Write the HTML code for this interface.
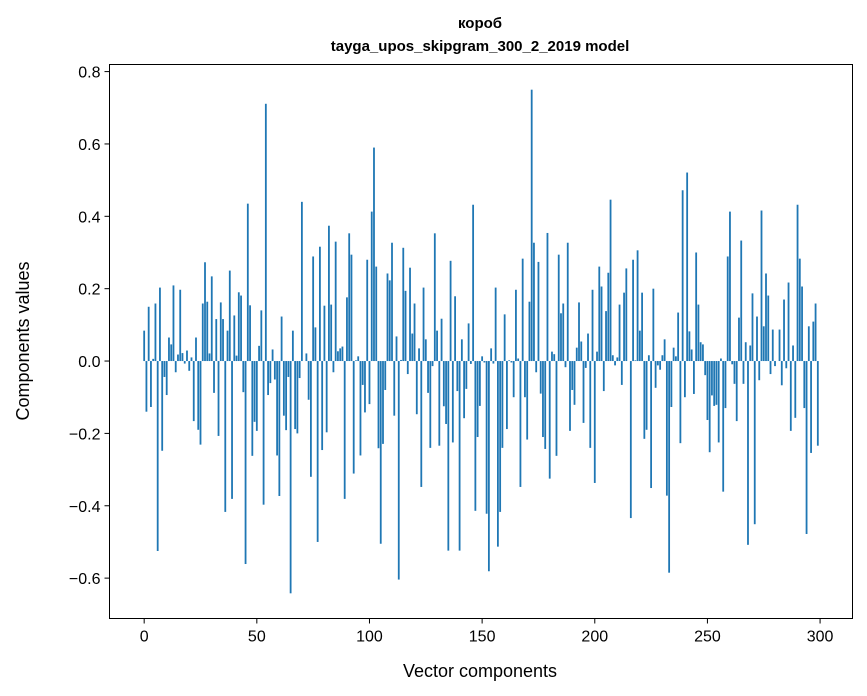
<!DOCTYPE html>
<html><head><meta charset="utf-8"><style>
html,body{margin:0;padding:0;background:#fff;}
svg{display:block;font-family:"Liberation Sans","DejaVu Sans",sans-serif;}
</style></head><body>
<svg id="chart" width="867" height="696">
<rect width="867" height="696" fill="#fff"/>
<text x="480" y="28" text-anchor="middle" font-size="15" font-weight="bold">короб</text>
<text x="480" y="51" text-anchor="middle" font-size="15" font-weight="bold">tayga_upos_skipgram_300_2_2019 model</text>
<g id="bars"></g>
<g id="xticks"></g>
<g id="yticks"></g>
<rect x="109.5" y="64.5" width="743" height="554" fill="none" stroke="#000" stroke-width="1"/>
<text x="480" y="677" text-anchor="middle" font-size="18">Vector components</text>
<text transform="translate(29,341) rotate(-90)" text-anchor="middle" font-size="18">Components values</text>
</svg>
<script>
const values = [0.084,-0.14,0.15,-0.127,0.006,0.159,-0.525,0.203,-0.248,-0.044,-0.094,0.065,0.046,0.209,-0.031,0.018,0.197,0.022,-0.007,0.029,-0.027,0.01,-0.166,0.065,-0.19,-0.231,0.159,0.273,0.164,0.021,0.234,-0.088,0.116,-0.207,0.162,0.116,-0.417,0.084,0.25,-0.381,0.126,0.015,0.19,0.181,-0.086,-0.561,0.435,0.154,-0.262,
-0.168,-0.193,0.042,0.14,-0.397,0.711,-0.094,-0.061,0.032,-0.051,-0.261,-0.373,0.123,-0.151,-0.191,-0.044,-0.642,0.084,-0.188,-0.2,-0.047,0.44,0,0.021,-0.107,-0.32,0.289,0.093,-0.5,0.316,-0.246,0.153,-0.197,0.374,0.156,-0.031,0.33,0.027,0.035,0.04,-0.381,0.176,0.353,0.294,-0.311,0.002,0.013,-0.261,-0.066,-0.142,
0.28,-0.119,0.413,0.59,0.261,-0.241,-0.505,-0.229,-0.08,0.242,0.223,0.327,-0.151,0.068,-0.604,0.003,0.313,0.194,-0.036,0.258,0.076,0.159,-0.147,0.035,-0.348,0.203,0.06,-0.088,-0.24,-0.014,0.353,0.084,-0.234,0.117,-0.125,-0.174,-0.524,0.277,-0.225,0.179,-0.083,-0.524,0.06,-0.158,-0.077,0.104,-0.008,0.432,-0.414,
-0.21,-0.124,0.013,-0.004,-0.422,-0.581,0.035,-0.007,0.203,-0.513,-0.417,-0.24,0.129,-0.188,0.002,-0.004,-0.1,0.197,0.007,-0.348,0.283,-0.1,-0.217,0.164,0.75,0.327,-0.031,0.274,-0.09,-0.21,-0.243,0.354,-0.325,0.026,0.019,-0.262,0.294,0.132,0.159,-0.017,0.327,-0.193,-0.08,-0.121,0.037,0.162,0.054,-0.171,-0.019,
0.076,-0.24,0.197,-0.337,0.026,0.261,0.206,-0.083,0.138,0.244,0.446,0.016,-0.012,0.01,0.156,-0.066,0.189,0.256,0,-0.434,0.28,0.002,0.306,0.084,0.189,-0.215,-0.19,0.016,-0.351,0.2,-0.074,-0.012,-0.024,0.016,0.06,-0.372,-0.585,-0.127,0.037,0.013,0.134,-0.227,0.472,-0.1,0.521,0.082,0.032,-0.091,0.3,
0.156,0.052,0.046,-0.039,-0.163,-0.252,-0.095,-0.124,-0.121,-0.225,0.007,-0.361,-0.13,0.289,0.413,-0.009,-0.063,-0.166,0.12,0.333,-0.063,0.052,-0.508,0.043,0.187,-0.451,0.123,-0.053,0.416,0.096,0.242,0.181,-0.036,0.087,-0.014,0,0.087,-0.067,0.17,-0.02,0.217,-0.193,0.043,-0.157,0.432,0.283,0.206,-0.13,-0.478,0.096,-0.254,0.109,0.159,-0.234];
const xTicks = [0,50,100,150,200,250,300];
const yTicks = [0.8,0.6,0.4,0.2,0.0,-0.2,-0.4,-0.6];
const yTickLabels = ["0.8","0.6","0.4","0.2","0.0","\u22120.2","\u22120.4","\u22120.6"];

const NS = "http://www.w3.org/2000/svg";
const X0 = 109.5, X1 = 852.5, Y0 = 64.5, Y1 = 618.5;
const n = values.length;
const xmin = -0.4 - 0.05*(n-1+0.8), xmax = n-1+0.4 + 0.05*(n-1+0.8);
let vmin = Math.min(0, ...values) - 0.4, vmax = Math.max(0, ...values) + 0.4;
const dmin = Math.min(0, ...values), dmax = Math.max(0, ...values);
const ymin = dmin - 0.05*(dmax-dmin), ymax = dmax + 0.05*(dmax-dmin);
function xs(v){ return X0 + (v - xmin)/(xmax - xmin)*(X1 - X0); }
function ys(v){ return Y1 - (v - ymin)/(ymax - ymin)*(Y1 - Y0); }

const bars = document.getElementById('bars');
values.forEach((v,i)=>{
  const r = document.createElementNS(NS,'rect');
  const xa = xs(i-0.4), xb = xs(i+0.4);
  const ya = ys(Math.max(v,0)), yb = ys(Math.min(v,0));
  r.setAttribute('x', xa); r.setAttribute('width', xb-xa);
  r.setAttribute('y', ya); r.setAttribute('height', Math.max(yb-ya, 0.01));
  r.setAttribute('fill', '#1f77b4');
  
  
  bars.appendChild(r);
});
const xg = document.getElementById('xticks');
xTicks.forEach(t=>{
  const x = xs(t);
  const l = document.createElementNS(NS,'line');
  l.setAttribute('x1',x); l.setAttribute('x2',x); l.setAttribute('y1',Y1); l.setAttribute('y2',Y1+5);
  l.setAttribute('stroke','#000');
  
  
  xg.appendChild(l);
  const tx = document.createElementNS(NS,'text');
  tx.setAttribute('x',x); tx.setAttribute('y',Y1+23); tx.setAttribute('text-anchor','middle'); tx.setAttribute('font-size','16');
  tx.textContent = String(t);
  
  
  xg.appendChild(tx);
});
const yg = document.getElementById('yticks');
yTicks.forEach((t,k)=>{
  const y = ys(t);
  const l = document.createElementNS(NS,'line');
  l.setAttribute('x1',X0-5); l.setAttribute('x2',X0); l.setAttribute('y1',y); l.setAttribute('y2',y);
  l.setAttribute('stroke','#000');
  
  
  yg.appendChild(l);
  const tx = document.createElementNS(NS,'text');
  tx.setAttribute('x',X0-9); tx.setAttribute('y',y+6); tx.setAttribute('text-anchor','end'); tx.setAttribute('font-size','16');
  tx.textContent = yTickLabels[k];
  
  
  yg.appendChild(tx);
});
</script>
</body></html>
